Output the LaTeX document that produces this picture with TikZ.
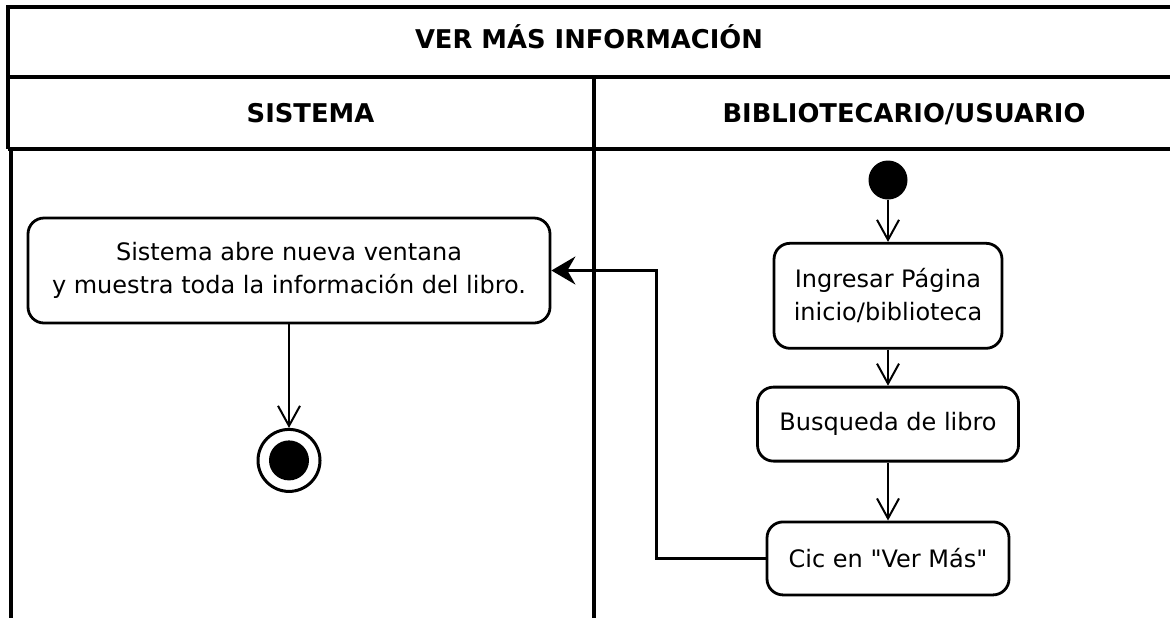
\documentclass[tikz,border=0pt]{standalone}
\usepackage{fontspec}
\setmainfont{DejaVu Sans}[Ligatures=TeXOff]
\usetikzlibrary{positioning,arrows.meta}

\begin{document}
\begin{tikzpicture}[
    x=0.5pt, y=0.5pt,
    lane/.style={line width=1.8pt},
    lane_title/.style={anchor=base, font=\bfseries\fontsize{12.9}{15}\selectfont},
    act/.style={rectangle, rounded corners=8pt, draw, line width=1.4pt, align=center, inner sep=0pt, font=\fontsize{12}{16.5}\selectfont},
    node_ini/.style={circle, fill, minimum size=19.5pt, inner sep=0pt},
    node_fin/.style={circle, draw, line width=1.5pt, minimum size=31pt, inner sep=0pt,
      path picture={\fill (path picture bounding box.center) circle (10pt);}},
    flow/.style={line width=1pt, -{Straight Barb[length=10pt, width=11pt]}},
    flow_back/.style={line width=1.3pt, -{Stealth[length=12pt, width=14pt, inset=4pt]}}
  ]
    \useasboundingbox (0,0) rectangle (1170,-618);

    % swimlanes
    \draw[lane] (1170,-7) -- (8,-7) -- (8,-149);
    \draw[lane] (8,-77) -- (1170,-77);
    \draw[lane] (8,-149) -- (1170,-149);
    \draw[lane] (11,-149) -- (11,-618);
    \draw[lane] (594,-77) -- (594,-618);

    \node[lane_title] (title) at (589,-48) {VER MÁS INFORMACIÓN};
    \node[lane_title] (lane_sis) at (310.5,-122) {SISTEMA};
    \node[lane_title] (lane_usr) at (904,-122) {BIBLIOTECARIO/USUARIO};

    % usuario
    \node[node_ini] (ini) at (888,-180) {};
    \node[act, minimum width=114pt, minimum height=52.5pt, below=21pt of ini] (ingresar) {Ingresar Página\\inicio/biblioteca};
    \node[act, minimum width=130.5pt, minimum height=37pt, below=18pt of ingresar] (busqueda) {Busqueda de libro};
    \node[act, minimum width=121pt, minimum height=36.5pt, below=29pt of busqueda] (clic) {Cic en "Ver Más"};

    % sistema
    \node[act, minimum width=261pt, minimum height=52.5pt] (abre) at (289,-270.5) {Sistema abre nueva ventana\\y muestra toda la información del libro.};
    \node[node_fin, below=51.75pt of abre] (fin) {};

    \draw[flow] (ini) -- (ingresar);
    \draw[flow] (ingresar) -- (busqueda);
    \draw[flow] (busqueda) -- (clic);
    \draw[flow] (abre) -- (fin);
    \draw[flow_back] (clic.west) -- ++(-109,0) |- (abre.east);
  \end{tikzpicture}
\end{document}
